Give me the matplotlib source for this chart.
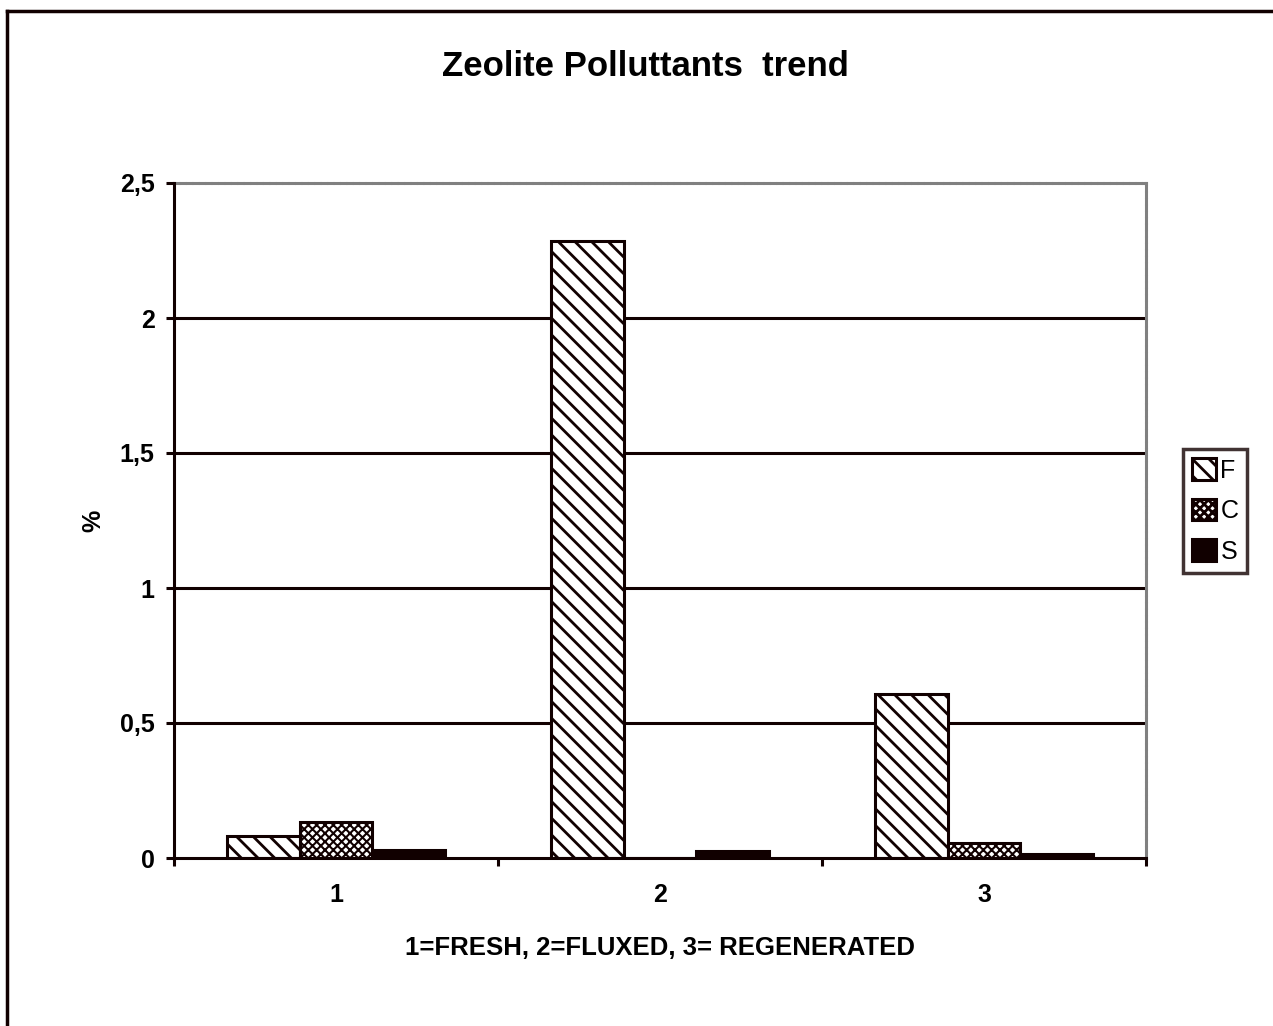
import numpy as np
import matplotlib
matplotlib.use("Agg")
import matplotlib.pyplot as plt
from matplotlib.lines import Line2D

# ==========================================================
# Data
# ==========================================================
categories = ["1", "2", "3"]
series_names = ["F", "C", "S"]
values_F = [0.08, 2.285, 0.607]
values_C = [0.133, 0.0, 0.055]
values_S = [0.03, 0.026, 0.015]
y_ticks = [0, 0.5, 1, 1.5, 2, 2.5]
y_tick_labels = ["0", "0,5", "1", "1,5", "2", "2,5"]

title = "Zeolite Polluttants  trend"
x_label = "1=FRESH, 2=FLUXED, 3= REGENERATED"
y_label = "%"

# ==========================================================
# Styling
# ==========================================================
ink = "#110000"
plt.rcParams["font.family"] = ["Liberation Sans", "DejaVu Sans"]
plt.rcParams["hatch.color"] = ink

fig = plt.figure(figsize=(12.73, 10.26), dpi=100)
ax = fig.add_axes([174 / 1273, 1 - 858 / 1026, (1146 - 174) / 1273, (858 - 183) / 1026])

x = np.arange(len(categories))
width = 0.225
styles = [
    (values_F, "\\\\", 2.0),
    (values_C, "xxxx", 1.5),
    (values_S, None, 1.0),
]
bars = []
for i, (vals, hatch, hlw) in enumerate(styles):
    plt.rcParams["hatch.linewidth"] = hlw
    fc = ink if hatch is None else "white"
    b = ax.bar(x + (i - 1) * width, vals, width, color=fc, edgecolor=ink,
               linewidth=2.2, hatch=hatch, zorder=3)
    for p in b:
        if hasattr(p, "set_hatch_linewidth"):
            p.set_hatch_linewidth(hlw)
    bars.append(b)

ax.set_xlim(-0.5, 2.5)
ax.set_ylim(0, 2.5)

# gridlines
for yv in y_ticks[1:-1]:
    ax.axhline(yv, color=ink, linewidth=2.2, zorder=1)

ax.set_yticks(y_ticks)
ax.set_yticklabels(y_tick_labels, fontsize=18, fontweight="bold")
ax.set_xticks([-0.5, 0.5, 1.5, 2.5])
ax.set_xticklabels([])
ax.set_xticks(x, minor=True)
ax.set_xticklabels(categories, minor=True, fontsize=18, fontweight="bold")
ax.tick_params(axis="x", which="major", direction="out", length=6, width=2.2, color=ink)
ax.tick_params(axis="x", which="minor", length=0, pad=18)
ax.tick_params(axis="y", direction="out", length=6, width=2.2, color=ink, pad=8)

for s in ["left", "bottom"]:
    ax.spines[s].set_color(ink)
    ax.spines[s].set_linewidth(2.2)
    ax.spines[s].set_zorder(4)
for s in ["top", "right"]:
    ax.spines[s].set_color("#808080")
    ax.spines[s].set_linewidth(2.2)
    ax.spines[s].set_linestyle((0, (1.5, 0.6)))

ax.set_xlabel(x_label, fontsize=18.5, fontweight="bold", labelpad=21)
ax.set_ylabel(y_label, fontsize=18, fontweight="bold", labelpad=10)
fig.text(645 / 1273, 1 - 67 / 1026, title, fontsize=25, fontweight="bold",
         ha="center", va="center")

# legend
plt.rcParams["hatch.linewidth"] = 2.0
leg = ax.legend([b[0] for b in bars], series_names, loc="center left",
                bbox_to_anchor=(1183 / 1273, 1 - 511 / 1026),
                bbox_transform=fig.transFigure, fontsize=18, frameon=True,
                fancybox=False, handlelength=0.95, handleheight=0.95,
                handletextpad=0.2, borderpad=0.35, labelspacing=0.65,
                borderaxespad=0)
leg.get_frame().set_edgecolor(ink)
leg.get_frame().set_linewidth(2.5)

# outer frame: left and top edge only
fig.add_artist(Line2D([7 / 1273, 7 / 1273], [0, 1 - 11 / 1026], color=ink,
                      linewidth=2.5, transform=fig.transFigure))
fig.add_artist(Line2D([7 / 1273, 1], [1 - 11 / 1026, 1 - 11 / 1026], color=ink,
                      linewidth=2.5, transform=fig.transFigure))

fig.savefig("out.png", dpi=100, facecolor="white")
